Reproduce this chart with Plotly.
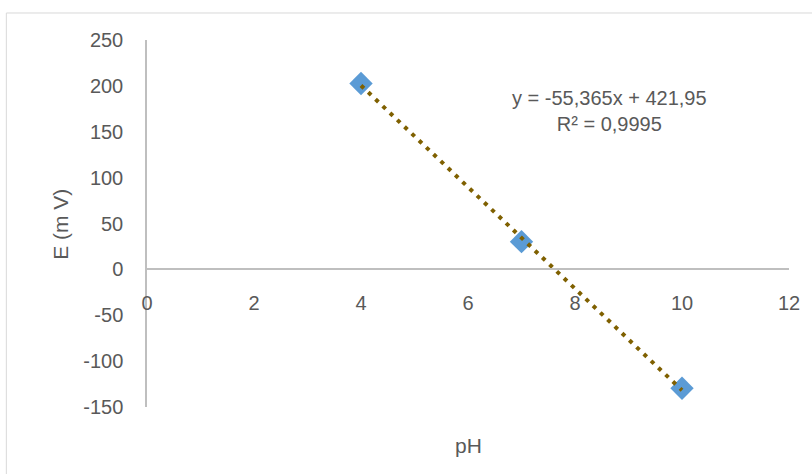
import numpy as np
import plotly.graph_objects as go

# Data
ph_values = [4, 7, 10]
e_values = [202.6, 30.2, -129.6]

# Trendline coefficients (from the equation shown on the chart)
trend_slope = -55.365
trend_intercept = 421.95
trend_x = [4, 10]
trend_y = [trend_slope * x + trend_intercept for x in trend_x]

x_ticks = [0, 2, 4, 6, 8, 10, 12]
y_ticks = [-150, -100, -50, 0, 50, 100, 150, 200, 250]

equation_text = "y = -55,365x + 421,95<br>R² = 0,9995"

FONT = "Liberation Sans, Arial, sans-serif"
TXT = "#595959"
AX = "#bfbfbf"

fig = go.Figure()
fig.add_trace(go.Scatter(
    x=ph_values, y=e_values, mode="markers",
    marker=dict(symbol="diamond", size=18, color="#5B9BD5",
                line=dict(width=0)),
    showlegend=False, hoverinfo="x+y",
))
fig.add_trace(go.Scatter(
    x=trend_x, y=trend_y, mode="lines",
    line=dict(color="#7F6000", width=4, dash="4px,6px"),
    showlegend=False, hoverinfo="skip",
))

fig.update_layout(
    width=812, height=474,
    margin=dict(l=147, r=17, t=40, b=67),
    paper_bgcolor="white", plot_bgcolor="white",
    font=dict(family=FONT, size=20, color=TXT),
    xaxis=dict(
        range=[0, 12], tickvals=x_ticks, ticktext=[str(v) for v in x_ticks],
        showgrid=False, zeroline=False, showline=True, linecolor=AX, linewidth=1.5,
        anchor="free", position=0.375, ticks="", ticklabelstandoff=16,
        ticklabeloverflow="allow",
        tickfont=dict(family=FONT, size=20, color=TXT),
    ),
    yaxis=dict(
        range=[-150, 250], tickvals=y_ticks, ticktext=[str(v) for v in y_ticks],
        showgrid=False, zeroline=False, showline=True, linecolor=AX, linewidth=1.5,
        ticks="", ticklabelstandoff=18,
        tickfont=dict(family=FONT, size=20, color=TXT),
    ),
    annotations=[
        dict(text=equation_text, x=8.65, y=172.9, xref="x", yref="y",
             showarrow=False, align="center", xanchor="center", yanchor="middle",
             font=dict(family=FONT, size=20, color=TXT)),
        dict(text="pH", x=0.5, y=-0.106, xref="paper", yref="paper",
             showarrow=False, xanchor="center", yanchor="middle",
             font=dict(family=FONT, size=21, color=TXT)),
        dict(text="E (m V)", x=-0.1358, y=0.4986, xref="paper", yref="paper",
             showarrow=False, xanchor="center", yanchor="middle", textangle=-90,
             font=dict(family=FONT, size=21, color=TXT)),
    ],
    shapes=[
        dict(type="rect", xref="paper", yref="paper",
             x0=-0.2191, x1=1.2, y0=-0.3, y1=1.0736,
             line=dict(color="#d9d9d9", width=1), fillcolor="rgba(0,0,0,0)",
             layer="below"),
    ],
)

fig.write_html("out.html",
               config={"displayModeBar": False},
               post_script="document.body.style.margin='0';document.body.style.padding='0';")
